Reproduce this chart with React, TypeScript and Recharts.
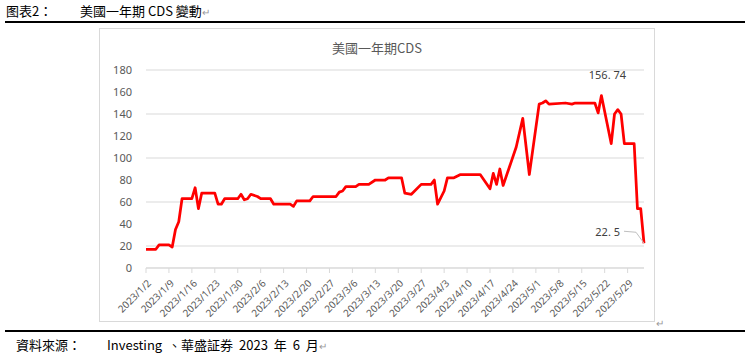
import { LineChart, Line, XAxis, YAxis, CartesianGrid } from "recharts"

// days counted from 2023/1/2
const days = [
  0, 3, 4, 7, 8, 9, 10, 11, 14, 15, 16, 17, 21, 22, 23, 24, 28, 29, 30, 31, 32, 34, 35, 38, 39,
  44, 45, 46, 50, 51, 58, 59, 60, 61, 64, 65, 68, 70, 73, 74, 78, 79, 81, 84, 87, 88, 89, 91, 92,
  94, 96, 102, 105, 106, 107, 108, 109, 113, 115, 117, 120, 121, 122, 123, 128, 130, 131, 137,
  138, 139, 142, 143, 144, 145, 146, 149, 150, 151, 152,
]
const cds = [
  17, 17, 21, 21, 19, 35, 42, 63, 63, 73, 54, 68, 68, 58, 58, 63, 63, 67, 62, 63, 67, 65, 63, 63, 58,
  58, 56, 61, 61, 65, 65, 69, 70, 74, 74, 76, 76, 80, 80, 82, 82, 68, 67, 76, 76, 80, 58, 70, 82,
  82, 85, 85, 72, 86, 76, 90, 75, 110, 136, 85, 149, 150, 152, 149, 150, 149, 150, 150,
  141, 156.74, 113, 140, 144, 140, 113, 113, 54, 54, 22.5,
]
const tickLabels = [
  "2023/1/2", "2023/1/9", "2023/1/16", "2023/1/23", "2023/1/30", "2023/2/6", "2023/2/13",
  "2023/2/20", "2023/2/27", "2023/3/6", "2023/3/13", "2023/3/20", "2023/3/27", "2023/4/3",
  "2023/4/10", "2023/4/17", "2023/4/24", "2023/5/1", "2023/5/8", "2023/5/15", "2023/5/22",
  "2023/5/29",
]
const yTicks = [0, 20, 40, 60, 80, 100, 120, 140, 160, 180]

const data = days.map((d, i) => ({ day: d, cds: cds[i] }))
const xTicks = tickLabels.map((_, i) => i * 7)
const peakIdx = cds.indexOf(Math.max(...cds))
const lastIdx = cds.length - 1

const axisFont = "'Noto Sans', 'Noto Sans CJK TC', sans-serif"
const cjk = "'Noto Sans CJK TC', 'Noto Sans CJK SC', sans-serif"

const XTick = ({ x, y, payload }: any) => {
  const label = tickLabels[xTicks.indexOf(payload.value)] ?? ""
  const ty = y + 6
  return (
    <text
      x={x + 3}
      y={ty}
      transform={`rotate(-45 ${x + 3} ${ty})`}
      textAnchor="end"
      dominantBaseline="central"
      fontSize={10}
      fontFamily={axisFont}
      fill="#595959"
    >
      {label}
    </text>
  )
}

const PointLabel = (props: any) => {
  const { x, y, index } = props
  if (index === peakIdx) {
    return (
      <text x={x + 6} y={y - 17} textAnchor="middle" fontSize={11} fontFamily={axisFont} fill="#404040">
        156. 74
      </text>
    )
  }
  if (index === lastIdx) {
    return (
      <g>
        <path d={`M${x - 20} ${y - 12} L${x - 8} ${y - 11} L${x} ${y}`} stroke="#bfbfbf" fill="none" />
        <text x={x - 24} y={y - 12} textAnchor="end" dominantBaseline="central" fontSize={11} fontFamily={axisFont} fill="#404040">
          22. 5
        </text>
      </g>
    )
  }
  return null
}

const txt = { position: "absolute" as const, fontSize: 13, fontFamily: cjk, color: "#000", whiteSpace: "pre" as const }

export default function App() {
  return (
    <div style={{ position: "absolute", left: 0, top: 0, width: 750, height: 353, background: "#fff", overflow: "hidden" }}>
      <div style={{ ...txt, left: 6, top: 1 }}>图表2：</div>
      <div style={{ ...txt, left: 80, top: 1 }}>
        美國一年期 CDS 變動<span style={{ color: "#999", fontSize: 10 }}>↵</span>
      </div>
      <div style={{ position: "absolute", left: 5, top: 21, width: 740, height: 2, background: "#000" }} />

      <div style={{ position: "absolute", left: 99, top: 28, width: 556, height: 294, border: "1px solid #d9d9d9", boxSizing: "border-box" }}>
        <div style={{ position: "absolute", left: 0, width: "100%", top: 9, textAlign: "center", fontSize: 13, fontFamily: cjk, color: "#595959" }}>
          美國一年期CDS
        </div>
        <div style={{ position: "absolute", left: -1, top: -1 }}>
          <LineChart width={557} height={295} data={data} margin={{ top: 42, right: 12, bottom: 0, left: 0 }}>
            <CartesianGrid vertical={false} stroke="#d9d9d9" />
            <XAxis
              dataKey="day"
              type="number"
              domain={[0, 152]}
              ticks={xTicks}
              interval={0}
              height={55}
              stroke="#d9d9d9"
              tickLine={{ stroke: "#d9d9d9" }}
              tickSize={5}
              tick={<XTick />}
            />
            <YAxis
              domain={[0, 180]}
              ticks={yTicks}
              width={47}
              axisLine={false}
              tickLine={false}
              tick={{ fontSize: 11, fill: "#595959", fontFamily: axisFont }}
              tickMargin={8}
            />
            <Line
              dataKey="cds"
              type="linear"
              stroke="#ff0000"
              strokeWidth={2.75}
              dot={false}
              strokeLinejoin="round"
              isAnimationActive={false}
              label={<PointLabel />}
            />
          </LineChart>
        </div>
      </div>
      <div style={{ position: "absolute", left: 656, top: 315, fontSize: 10, color: "#999", fontFamily: cjk }}>↵</div>

      <div style={{ position: "absolute", left: 5, top: 330, width: 740, height: 2, background: "#000" }} />
      <div style={{ ...txt, left: 16, top: 335 }}>資料來源：</div>
      <div style={{ ...txt, left: 107, top: 335, wordSpacing: 3 }}>
        Investing 、華盛証券 2023 年 6 月<span style={{ color: "#999", fontSize: 10 }}>↵</span>
      </div>
    </div>
  )
}
